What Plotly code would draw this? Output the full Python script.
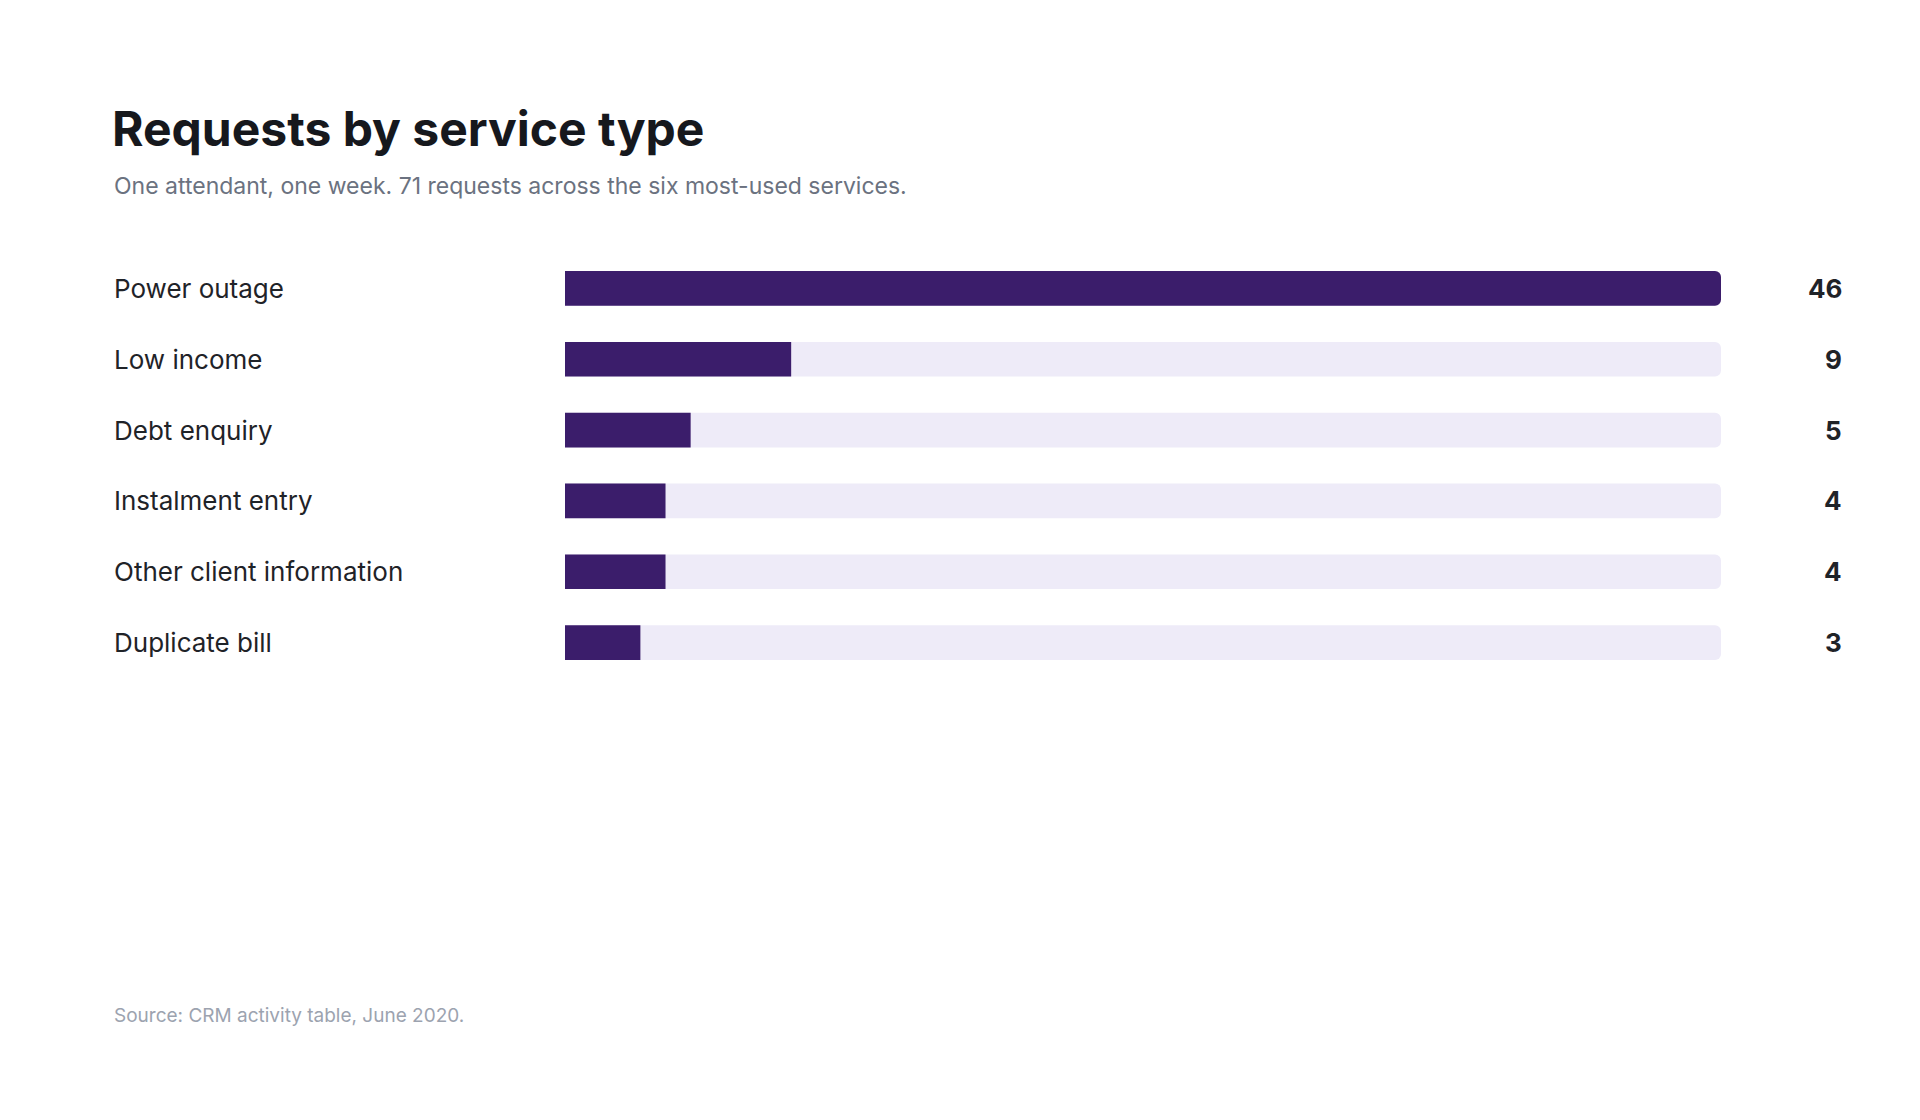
import plotly.graph_objects as go

categories = ["Power outage", "Low income", "Debt enquiry", "Instalment entry", "Other client information", "Duplicate bill"]
values = [46, 9, 5, 4, 4, 3]
max_value = 46

W, H = 1920, 1120
top, row = 244.5, 71
bottom = H - (top + row * len(categories))
ypos = list(range(len(categories)))

fig = go.Figure()
fig.add_bar(y=ypos, x=[max_value] * len(values), orientation="h", width=0.49,
            marker=dict(color="#eeebf8", cornerradius=6, line_width=0), hoverinfo="skip")
fig.add_bar(y=ypos, x=values, orientation="h", width=0.49,
            marker=dict(color="#3b1d6b", cornerradius=6, line_width=0))

ann = []
for i, (c, v) in enumerate(zip(categories, values)):
    ann.append(dict(xref="paper", yref="y", x=-557 / 1156 + 104 / 1156, y=i, text=c, showarrow=False,
                    xanchor="left", font=dict(family="Inter", size=26, color="#1f2328")))
    ann.append(dict(xref="paper", yref="y", x=(1836 - 557) / 1156, y=i, text=f"<b>{v}</b>", showarrow=False,
                    xanchor="right", font=dict(family="Inter", size=26, color="#1f2328")))

fig.update_layout(
    width=W, height=H, barmode="overlay", showlegend=False,
    paper_bgcolor="white", plot_bgcolor="white",
    margin=dict(l=557, r=W - 1713, t=top, b=bottom),
    xaxis=dict(range=[0, max_value], visible=False, fixedrange=True),
    yaxis=dict(range=[len(categories) - 0.5, -0.5], visible=False, fixedrange=True),
    annotations=ann,
)
fig.add_annotation(xref="paper", yref="paper", x=(104 - 557) / 1156, y=(H - bottom + (bottom - 0) ) / (H - top - bottom) * 0, showarrow=False, text="")
# titles positioned in pixel terms via paper coordinates
ph = H - top - bottom
def py(y_px):
    return (H - bottom - y_px) / ph
def px(x_px):
    return (x_px - 557) / 1156
fig.add_annotation(xref="paper", yref="paper", x=px(102), y=py(120), text="<b>Requests by service type</b>",
                   showarrow=False, xanchor="left", yanchor="middle", font=dict(family="Inter", size=48, color="#16181d"))
fig.add_annotation(xref="paper", yref="paper", x=px(104), y=py(177), text="One attendant, one week. 71 requests across the six most-used services.",
                   showarrow=False, xanchor="left", yanchor="middle", font=dict(family="Inter", size=23, color="#6b7280"))
fig.add_annotation(xref="paper", yref="paper", x=px(104), y=py(1009), text="Source: CRM activity table, June 2020.",
                   showarrow=False, xanchor="left", yanchor="middle", font=dict(family="Inter", size=19, color="#9ca3af"))
fig.write_html("out.html")
